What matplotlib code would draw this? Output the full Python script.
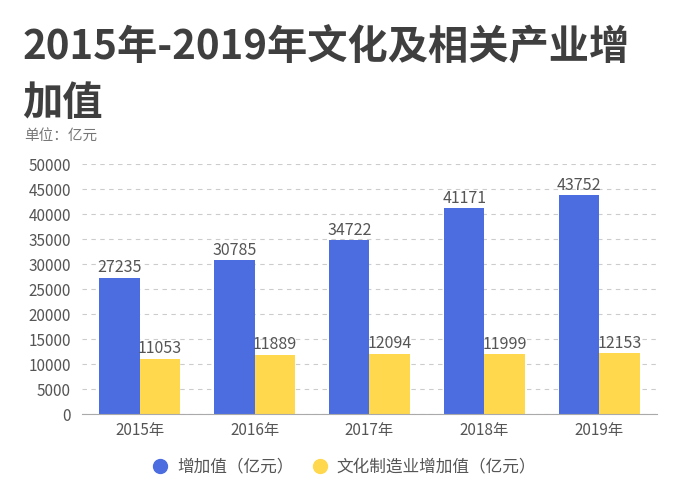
import matplotlib
matplotlib.use('Agg')
from matplotlib import pyplot as plt
from matplotlib.lines import Line2D
import numpy as np

plt.rcParams['font.family'] = ['Noto Sans CJK SC', 'DejaVu Sans']

years = ['2015年', '2016年', '2017年', '2018年', '2019年']
added_value = [27235, 30785, 34722, 41171, 43752]
manufacturing = [11053, 11889, 12094, 11999, 12153]
series_names = ['增加值（亿元）', '文化制造业增加值（亿元）']

blue = '#4B6DE0'
yellow = '#FFD84D'
text_col = '#555555'

fig = plt.figure(figsize=(6.73, 4.84), dpi=100)
ax = fig.add_axes([0.122, 0.1446, 0.854, 0.5165])

x = np.arange(len(years))
w = 0.35
b1 = ax.bar(x - w / 2, added_value, w, color=blue)
b2 = ax.bar(x + w / 2, manufacturing, w, color=yellow)

for bars, vals in [(b1, added_value), (b2, manufacturing)]:
    for rect, v in zip(bars, vals):
        ax.text(rect.get_x() + rect.get_width() / 2, v + 300, str(v),
                ha='center', va='bottom', fontsize=11.5, color=text_col)

ax.set_xlim(-0.5, 4.5)
ax.set_ylim(0, 50000)
ax.set_yticks(np.arange(0, 50001, 5000))
ax.set_xticks(x)
ax.set_xticklabels(years)
ax.tick_params(axis='both', colors=text_col, labelsize=11, length=0)
ax.tick_params(axis='x', pad=6)
ax.tick_params(axis='y', pad=8)
ax.yaxis.grid(True, linestyle=(0, (4, 4)), color='#cccccc', linewidth=0.8)
ax.set_axisbelow(True)
for s in ['top', 'right', 'left']:
    ax.spines[s].set_visible(False)
ax.spines['bottom'].set_color('#aaaaaa')

# title, two lines
fig.text(0.033, 0.9, '2015年-2019年文化及相关产业增', fontsize=29, fontweight='semibold',
         color='#3f3f3f', va='center', ha='left')
fig.text(0.033, 0.787, '加值', fontsize=29, fontweight='semibold',
         color='#3f3f3f', va='center', ha='left')
fig.text(0.036, 0.72, '单位：亿元', fontsize=10.5, color='#777777', va='center', ha='left')

handles = [Line2D([], [], marker='o', linestyle='', markersize=10, color=blue),
           Line2D([], [], marker='o', linestyle='', markersize=10, color=yellow)]
fig.legend(handles, series_names, loc='center', bbox_to_anchor=(0.505, 0.035), ncol=2,
           frameon=False, fontsize=12, labelcolor=text_col, handletextpad=0.0,
           columnspacing=0.6)

plt.savefig('out.png', dpi=100)
